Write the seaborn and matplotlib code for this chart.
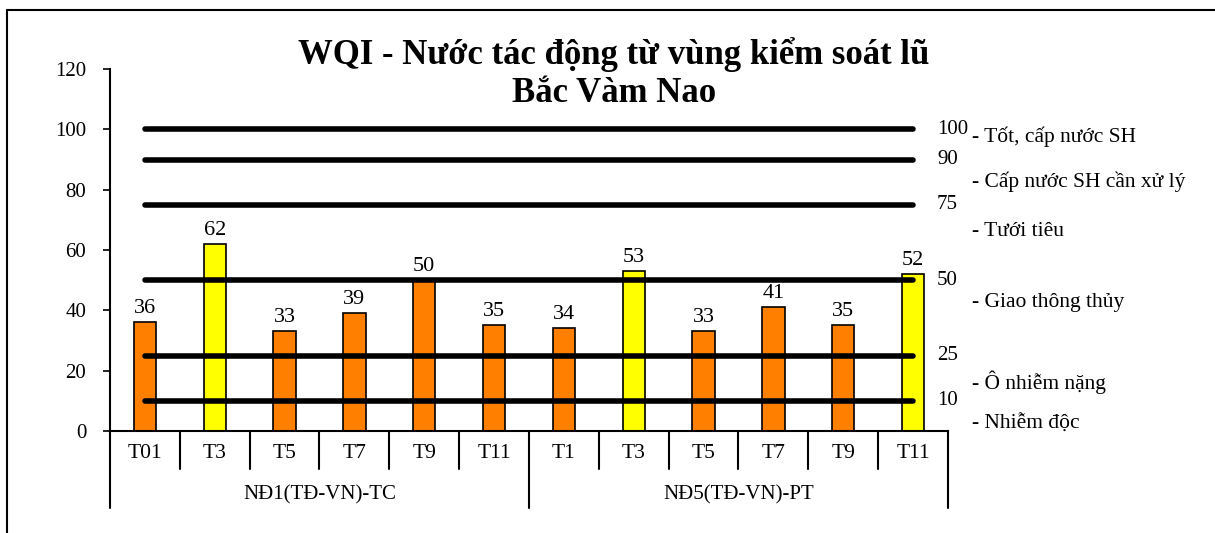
import numpy as np
import pandas as pd
import matplotlib
matplotlib.use('Agg')
import matplotlib.pyplot as plt
from matplotlib.lines import Line2D
import seaborn as sns

# data
months = ['T01', 'T3', 'T5', 'T7', 'T9', 'T11', 'T1', 'T3', 'T5', 'T7', 'T9', 'T11']
stations = ['NĐ1(TĐ-VN)-TC', 'NĐ5(TĐ-VN)-PT']
wqi = [36, 62, 33, 39, 50, 35, 34, 53, 33, 41, 35, 52]
bar_kind = ['low', 'high', 'low', 'low', 'low', 'low', 'low', 'high', 'low', 'low', 'low', 'high']
thresholds = [100, 90, 75, 50, 25, 10]
uses = ['- Tốt, cấp nước SH', '- Cấp nước SH cần xử lý', '- Tưới tiêu',
        '- Giao thông thủy', '- Ô nhiễm nặng', '- Nhiễm độc']
use_y = [97.5, 82.5, 66, 42.5, 16, 2.3]

sns.set_style('white')
plt.rcParams['font.family'] = ['Liberation Serif', 'DejaVu Serif']
plt.rcParams['text.color'] = 'black'
plt.rcParams['ytick.color'] = 'black'
plt.rcParams['xtick.color'] = 'black'

df = pd.DataFrame({'pos': np.arange(len(wqi)), 'WQI': wqi, 'kind': bar_kind})

fig = plt.figure(figsize=(12.15, 5.33), dpi=100)
ax = fig.add_axes([0.0905, 0.1914, 0.6897, 0.6791])

sns.barplot(data=df, x='pos', y='WQI', hue='kind', dodge=False, width=0.32, saturation=1,
            palette={'low': '#FF8000', 'high': '#FFFF00'}, edgecolor='black',
            linewidth=1.2, legend=False, ax=ax)

# threshold lines over the bars
for t in thresholds:
    ax.plot([0, len(wqi) - 1], [t, t], color='black', lw=4, solid_capstyle='round', zorder=5)
    ax.text(0.987, t, str(t), transform=ax.get_yaxis_transform(), ha='left', va='center',
            fontsize=15, clip_on=False)

for txt, y in zip(uses, use_y):
    ax.text(1.029, y, txt, transform=ax.get_yaxis_transform(), ha='left', va='center',
            fontsize=15.5, clip_on=False)

# value labels
for i, v in enumerate(wqi):
    ax.annotate(str(v), (i, v), xytext=(0, 3), textcoords='offset points',
                ha='center', va='bottom', fontsize=16)

ax.set_xlim(-0.5, len(wqi) - 0.5)
ax.set_ylim(0, 120)
ax.set_yticks(range(0, 121, 20))
ax.tick_params(axis='y', direction='out', length=5, width=1.2, labelsize=15, pad=12, left=True)
ax.set_xticks([])
ax.set_xlabel('')
ax.set_ylabel('')
for side in ['top', 'right']:
    ax.spines[side].set_visible(False)
for side in ['left', 'bottom']:
    ax.spines[side].set_linewidth(1.5)
    ax.spines[side].set_color('black')

# two-level category axis
trans = ax.get_xaxis_transform()
n_per = len(months) // len(stations)
for i, m in enumerate(months):
    ax.text(i, -0.061, m, transform=trans, ha='center', va='center', fontsize=15.5)
for k in range(len(months) + 1):
    bottom = -0.213 if k % n_per == 0 else -0.105
    ax.add_line(Line2D([k - 0.5, k - 0.5], [0, bottom], transform=trans, color='black',
                       lw=1.5, clip_on=False))
for j, s in enumerate(stations):
    ax.text(j * n_per + (n_per - 1) / 2, -0.177, s, transform=trans, ha='center',
            va='center', fontsize=15)

fig.text(0.505, 0.862, 'WQI - Nước tác động từ vùng kiểm soát lũ\nBắc Vàm Nao',
         ha='center', va='center', fontsize=25, fontweight='bold', linespacing=1.18)

# outer chart frame
fig.add_artist(Line2D([0.0058, 0.0058], [0.981, 0.0], transform=fig.transFigure, color='black', lw=1.5))
fig.add_artist(Line2D([0.0058, 1.0], [0.981, 0.981], transform=fig.transFigure, color='black', lw=1.5))

fig.savefig('out.png', dpi=100)
